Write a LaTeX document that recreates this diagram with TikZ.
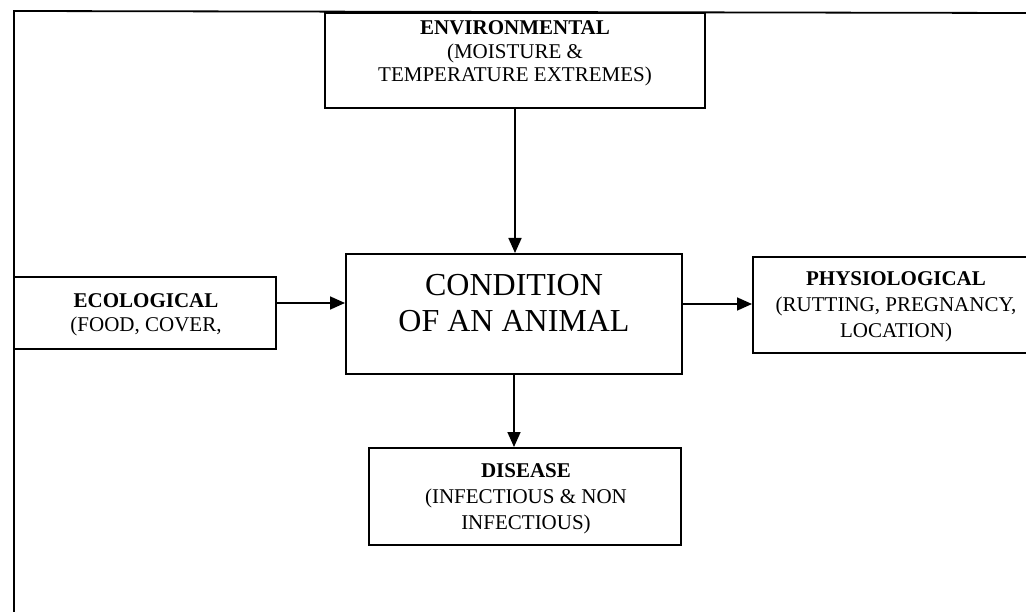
\documentclass[tikz,border=0pt]{standalone}
\usepackage{fontspec}
\setmainfont{Liberation Serif}
\usetikzlibrary{arrows.meta}
\tikzset{
  boxnode/.style={draw, line width=2pt, rectangle, inner sep=0pt},
  txt/.style={align=center, inner sep=0pt, font=\fontsize{21}{23.5}\selectfont},
  txtwide/.style={align=center, inner sep=0pt, font=\fontsize{21}{26}\selectfont},
  bigtxt/.style={align=center, inner sep=0pt, font=\fontsize{32}{35.5}\selectfont},
  conn/.style={line width=1.7pt, -{Triangle[length=15pt,width=13pt]}},
  frameline/.style={line width=1.8pt}
}
\begin{document}
\begin{tikzpicture}[x=1pt,y=-1pt]
\useasboundingbox (0,0) rectangle (1026,612);
% frame
\coordinate (ftl) at (14,11);
\coordinate (ftr) at (1026,13);
\coordinate (fbl) at (14,612);
\draw[frameline] (fbl) -- (ftl) -- (ftr);
% boxes
\node[boxnode, minimum width=380pt, minimum height=95pt] (env) at (515,60.5) {};
\node[txt] (envt) at (515,53.5) {\textbf{ENVIRONMENTAL}\\(MOISTURE \&\\TEMPERATURE EXTREMES)};
\node[boxnode, minimum width=336pt, minimum height=120pt] (cond) at (514,314) {};
\node[bigtxt] (condt) at (514,303) {CONDITION\\OF AN ANIMAL};
\node[boxnode, minimum width=262pt, minimum height=72pt] (eco) at (145,313) {};
\node[txt] (ecot) at (146,315) {\textbf{ECOLOGICAL}\\(FOOD, COVER,};
\node[boxnode, minimum width=288pt, minimum height=96pt] (phys) at (897,305) {};
\node[txtwide] (physt) at (896,307) {\textbf{PHYSIOLOGICAL}\\(RUTTING, PREGNANCY,\\LOCATION)};
\node[boxnode, minimum width=312pt, minimum height=97pt] (dis) at (525,496.5) {};
\node[txtwide] (dist) at (526,499) {\textbf{DISEASE}\\(INFECTIOUS \& NON\\INFECTIOUS)};
% connectors
\draw[conn] (env.south) -- (env.south |- cond.north);
\draw[conn] ([yshift=10pt]eco.east) -- ([yshift=10pt]eco.east -| cond.west);
\draw[conn] ([yshift=10pt]cond.east) -- ([yshift=10pt]cond.east -| phys.west);
\draw[conn] (cond.south) -- (cond.south |- dis.north);
\end{tikzpicture}
\end{document}
